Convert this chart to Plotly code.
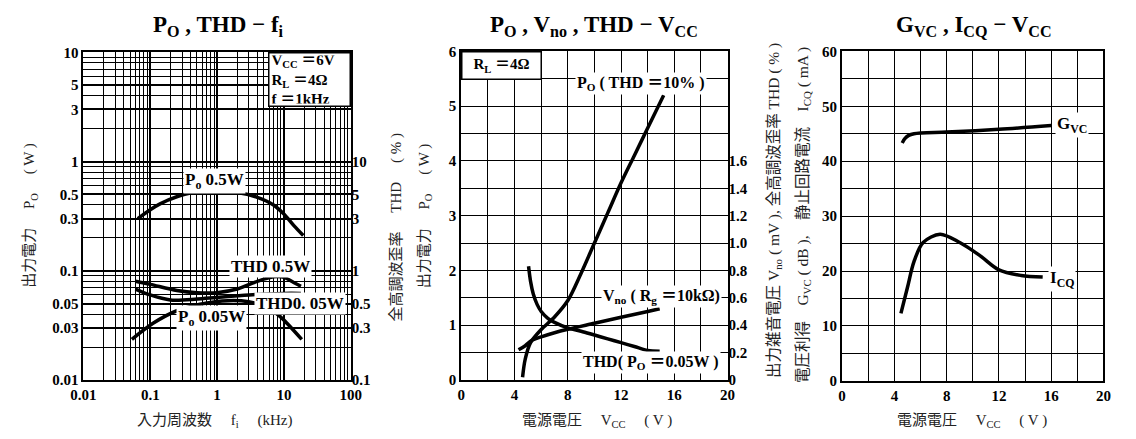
import plotly.graph_objects as go

# ---------------- Panel 1 : Po, THD - fi ----------------
f_po05 = [0.065, 0.14, 0.43, 1.0, 2.0, 4.0, 7.0, 10.0, 14.0, 19.5]
po05 = [0.30, 0.41, 0.52, 0.53, 0.52, 0.47, 0.40, 0.33, 0.26, 0.21]
f_po005 = [0.053, 0.11, 0.25, 0.75, 2.3, 5.7, 8.8, 18.5]
po005 = [0.0235, 0.033, 0.043, 0.051, 0.053, 0.046, 0.038, 0.0235]
f_thd05 = [0.06, 0.1, 0.25, 0.5, 1, 2, 4, 7, 10, 14, 18]
thd05 = [0.8, 0.75, 0.66, 0.63, 0.63, 0.68, 0.8, 0.88, 0.87, 0.78, 0.72]
f_thd005 = [0.06, 0.1, 0.2, 0.5, 1, 3, 10, 18]
thd005 = [0.68, 0.6, 0.54, 0.55, 0.57, 0.6, 0.62, 0.62]

p1_xticks = [0.01, 0.1, 1, 10, 100]
p1_xtext = ["0.01", "0.1", "1", "10", "100"]
p1_yticks = [0.01, 0.03, 0.05, 0.1, 0.3, 0.5, 1, 3, 5, 10]
p1_ytext = ["0.01", "0.03", "0.05", "0.1", "0.3", "0.5", "1", "3", "5", "10"]
p1_y2ticks = [0.1, 0.3, 0.5, 1, 3, 5, 10]
p1_y2text = ["0.1", "0.3", "0.5", "1", "3", "5", "10"]

# ---------------- Panel 2 : Po, Vno, THD - Vcc ----------------
v_po = [4.6, 4.8, 5.2, 6, 7, 8, 9, 10, 11, 12, 13, 14, 15.2]
po10 = [0.05, 0.38, 0.68, 0.92, 1.15, 1.45, 1.95, 2.5, 3.05, 3.6, 4.1, 4.6, 5.2]
v_vno = [4.3, 4.8, 5.3, 6, 7, 8, 10, 12, 14, 14.9]
vno = [0.22, 0.25, 0.29, 0.315, 0.345, 0.37, 0.414, 0.458, 0.50, 0.52]
v_thd = [5.05, 5.2, 5.4, 5.7, 6, 6.5, 7, 8, 9, 10, 11, 12, 13, 14, 14.9]
thd_v = [0.83, 0.72, 0.63, 0.55, 0.50, 0.45, 0.42, 0.38, 0.356, 0.328, 0.30, 0.272, 0.244, 0.215, 0.21]

p2_y2ticks = [0, 0.2, 0.4, 0.6, 0.8, 1.0, 1.2, 1.4, 1.6]
p2_y2text = ["0", "0.2", "0.4", "0.6", "0.8", "1.0", "1.2", "1.4", "1.6"]

# ---------------- Panel 3 : Gvc, Icq - Vcc ----------------
v_gvc = [4.6, 4.8, 5.1, 5.5, 8, 12, 16]
gvc = [43.3, 44.1, 44.7, 45.0, 45.3, 45.8, 46.5]
v_icq = [4.5, 5.0, 5.5, 6.2, 7.5, 9.0, 10.5, 12.0, 13.7, 15.35]
icq = [12.3, 17.0, 21.7, 25.2, 26.7, 25.2, 22.9, 20.2, 19.2, 18.9]

SERIF = "'Liberation Serif', 'Noto Sans CJK JP', serif"
W, H = 1136, 439
LW = 3.5

fig = go.Figure()

def line(x, y, xa, ya):
    fig.add_trace(go.Scatter(x=x, y=y, xaxis=xa, yaxis=ya, mode="lines",
                             line=dict(color="black", width=LW, shape="spline", smoothing=0.9),
                             showlegend=False, hoverinfo="skip"))

line(f_po05, po05, "x", "y")
line(f_po005, po005, "x", "y")
line(f_thd05, thd05, "x", "y2")
line(f_thd005, thd005, "x", "y2")
line(v_po, po10, "x2", "y3")
line(v_vno, vno, "x2", "y4")
line(v_thd, thd_v, "x2", "y4")
line(v_gvc, gvc, "x3", "y5")
line(v_icq, icq, "x3", "y5")

def px(a, b):
    return [a / W, b / W]

def py(top, bottom):
    return [1 - bottom / H, 1 - top / H]

tickfont = dict(family=SERIF, size=15, color="black", weight="bold")
axis_common = dict(showline=True, linecolor="black", linewidth=2.2, mirror=True,
                   zeroline=False, ticks="", tickfont=tickfont, gridcolor="black")

log_minor = []
for e in [0.01, 0.1, 1, 10]:
    for m in range(2, 10):
        log_minor.append(e * m)
log_minor_y = [v / 10 for v in log_minor] + log_minor[:24]

fig.update_layout(
    width=W, height=H, autosize=False,
    margin=dict(l=0, r=0, t=0, b=0),
    paper_bgcolor="white", plot_bgcolor="white",
    xaxis=dict(domain=px(72, 345), type="log", range=[-2, 2], anchor="y",
               tickmode="array", tickvals=p1_xticks, ticktext=p1_xtext,
               showgrid=True, gridwidth=1.8,
               minor=dict(tickmode="array", tickvals=log_minor, showgrid=True,
                          gridcolor="black", gridwidth=1.4, ticks=""),
               **axis_common),
    yaxis=dict(domain=py(46, 386), type="log", range=[-2, 1], anchor="x",
               tickmode="array", tickvals=p1_yticks, ticktext=p1_ytext,
               showgrid=True, gridwidth=1.8,
               minor=dict(tickmode="array", tickvals=log_minor_y,
                          showgrid=True, gridcolor="black", gridwidth=1.4, ticks=""),
               **axis_common),
    yaxis2=dict(type="log", range=[-1, 2], overlaying="y", side="right", anchor="x",
                tickmode="array", tickvals=p1_y2ticks, ticktext=p1_y2text,
                showgrid=False, showline=False, zeroline=False, ticks="", tickfont=tickfont),
    xaxis2=dict(domain=px(458, 730), range=[0, 20], anchor="y3",
                tickmode="linear", tick0=0, dtick=4, showgrid=True, gridwidth=1.3,
                minor=dict(dtick=2, showgrid=True, gridcolor="black", gridwidth=1.3),
                **axis_common),
    yaxis3=dict(domain=py(45, 386), range=[0, 6], anchor="x2",
                tickmode="linear", tick0=0, dtick=1, showgrid=True, gridwidth=1.3,
                minor=dict(dtick=0.5, showgrid=True, gridcolor="black", gridwidth=1.3),
                **axis_common),
    yaxis4=dict(range=[0, 2.4], overlaying="y3", side="right", anchor="x2",
                tickmode="array", tickvals=p2_y2ticks, ticktext=p2_y2text,
                showgrid=False, showline=False, zeroline=False, ticks="", tickfont=tickfont),
    xaxis3=dict(domain=px(847, 1114), range=[0, 20], anchor="y5",
                tickmode="linear", tick0=0, dtick=4, showgrid=True, gridwidth=1.3,
                minor=dict(dtick=2, showgrid=True, gridcolor="black", gridwidth=1.3),
                **axis_common),
    yaxis5=dict(domain=py(45, 387), range=[0, 60], anchor="x3",
                tickmode="linear", tick0=0, dtick=10, showgrid=True, gridwidth=1.3,
                minor=dict(dtick=5, showgrid=True, gridcolor="black", gridwidth=1.3),
                **axis_common),
)

ann = []

def paper_text(text, x, y, size=15, bold=False, angle=0, color="black"):
    ann.append(dict(text=text, x=x / W, y=1 - y / H, xref="paper", yref="paper",
                    xanchor="center", yanchor="middle", showarrow=False, textangle=angle,
                    font=dict(family=SERIF, size=size, color=color,
                              weight="bold" if bold else "normal")))

def label(text, xr, yr, xd, yd, size=16, border=False, xanchor="center", yanchor="middle",
          align="center", width=None, height=None):
    d = dict(text=text, x=xd, y=yd, xref=xr + " domain", yref=yr + " domain",
             xanchor=xanchor, yanchor=yanchor, showarrow=False, bgcolor="white", align=align,
             borderpad=1, font=dict(family=SERIF, size=size, color="black", weight="bold"))
    if border:
        d.update(bordercolor="black", borderwidth=1.5, borderpad=2)
    if width:
        d["width"] = width
    if height:
        d["height"] = height
    ann.append(d)

# titles
paper_text("P<sub>O</sub> , THD − f<sub>i</sub>", 210, 19, size=23, bold=True)
paper_text("P<sub>O</sub> , V<sub>no</sub> , THD − V<sub>CC</sub>", 594, 19, size=23, bold=True)
paper_text("G<sub>VC</sub> , I<sub>CQ</sub> − V<sub>CC</sub>", 982, 19, size=23, bold=True)

# axis titles
AT = "#222"
paper_text("入力周波数　 f<sub>i</sub> 　(kHz)", 206, 429, size=15, color=AT)
paper_text("電源電圧　 V<sub>CC</sub> 　( V )", 597, 429, size=15, color=AT)
paper_text("電源電圧　 V<sub>CC</sub> 　( V )", 980, 429, size=15, color=AT)
paper_text("出力電力　 P<sub>O</sub> 　( W )", 18, 215, size=15, angle=-90, color=AT)
paper_text("全高調波歪率　 THD 　( % )", 392, 228, size=15, angle=-90, color=AT)
paper_text("出力電力　 P<sub>O</sub> 　( W )", 421, 216, size=15, angle=-90, color=AT)
paper_text("出力雑音電圧 V<sub>no</sub> ( mV ), 全高調波歪率 THD ( % )", 778, 210, size=15.5, angle=-90, color=AT)
paper_text("電圧利得　G<sub>VC</sub> ( dB ),　静止回路電流　I<sub>CQ</sub> ( mA )", 807, 215, size=15.5, angle=-90, color=AT)

# panel 1 labels
label("V<sub>CC</sub> ＝6V<br>R<sub>L</sub> ＝4Ω<br>f ＝1kHz", "x", "y", 1, 1, size=15,
      border=True, xanchor="right", yanchor="top", align="left", width=76, height=48)
label("P<sub>o</sub> 0.5W", "x", "y", 0.49, 0.606, size=17)
label("THD 0.5W", "x", "y", 0.70, 0.347, size=17)
label("THD0. 05W", "x", "y", 0.81, 0.232, size=17)
label("P<sub>o</sub> 0.05W", "x", "y", 0.48, 0.188, size=17)

# panel 2 labels
label("R<sub>L</sub> ＝4Ω", "x2", "y3", 0, 1, size=15, border=True, xanchor="left", yanchor="top",
      width=74, height=22)
label("P<sub>O</sub> ( THD ＝10% )", "x2", "y3", 0.676, 0.903, size=16)
label("V<sub>no</sub> ( R<sub>g</sub> ＝10kΩ)", "x2", "y3", 0.75, 0.255, size=16)
label("THD( P<sub>O</sub> ＝0.05W )", "x2", "y3", 0.713, 0.053, size=16)

# panel 3 labels
label("G<sub>VC</sub>", "x3", "y5", 0.88, 0.778, size=17)
label("I<sub>CQ</sub>", "x3", "y5", 0.84, 0.31, size=17)

fig.update_layout(annotations=ann)
fig.write_html("out.html")
